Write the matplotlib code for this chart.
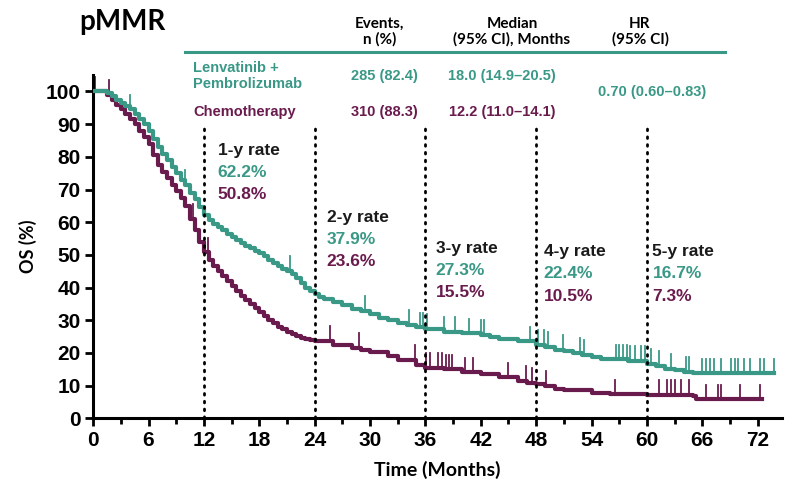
import numpy as np
import matplotlib
matplotlib.use("Agg")
from matplotlib import pyplot as plt

TEAL = "#3a9886"
PURPLE = "#6a1b4d"

# Kaplan-Meier step points (months, % alive)
lenva_t = [0, 0.5, 1, 1.5, 2, 2.5, 3, 3.5, 4, 4.5, 5, 5.5, 6, 6.5, 7, 7.5, 8, 8.5, 9, 9.5,
           10, 10.5, 11, 11.5, 12, 12.5, 13, 13.5, 14, 14.5, 15, 15.5, 16, 16.5, 17, 17.5,
           18, 18.5, 19, 19.5, 20, 20.5, 21, 21.5, 22, 22.5, 23, 23.5, 24, 24.5, 25, 26,
           27, 28, 29, 30, 31, 32, 33, 34, 35, 36, 38, 40, 42, 43, 44, 46, 48, 49, 50, 51,
           52, 53, 54, 55, 58, 60, 61, 62, 63, 64, 65, 73.8]
lenva_s = [100, 100, 100, 99.5, 98.5, 97.5, 96.5, 95.5, 94.5, 93, 91.5, 90, 88, 85.5, 83,
           81, 79, 77, 75, 73, 71.5, 69, 67, 64.5, 62.2, 60.8, 59.5, 58.5, 57.5, 56.5, 55.5,
           54.5, 53.5, 52.8, 52, 51.2, 50.5, 49.5, 48.5, 47.5, 46.5, 45.8, 45, 44, 43, 41.5,
           40, 39, 37.9, 37.2, 36.5, 35.5, 34.5, 33.5, 32.8, 31.8, 30.8, 30, 29.2, 28.5,
           27.8, 27.3, 26.5, 26, 25.5, 24.8, 24.2, 23.5, 22.4, 21.8, 21, 20.5, 20, 19.5,
           18.8, 18, 17.5, 16.7, 16, 15.2, 14.8, 14.2, 13.7, 13.7]

chemo_t = [0, 1, 1.5, 2, 2.5, 3, 3.5, 4, 4.5, 5, 5.5, 6, 6.5, 7, 7.5, 8, 8.5, 9, 9.5, 10,
           10.5, 11, 11.5, 12, 12.5, 13, 13.5, 14, 14.5, 15, 15.5, 16, 16.5, 17, 17.5, 18,
           18.5, 19, 19.5, 20, 20.5, 21, 21.5, 22, 22.5, 23, 23.5, 24, 26, 28, 29, 30, 32,
           33, 35, 36, 38, 40, 42, 44, 46, 47, 48, 49, 50, 51, 54, 56, 60, 65, 65.3, 72.5]
chemo_s = [100, 100, 99, 97.5, 96, 94.5, 93, 91.5, 90, 88, 86, 84, 80.5, 77.5, 75.5, 73.5,
           71.5, 69.5, 67.5, 65, 61, 57.5, 54, 50.8, 48.5, 46.5, 45, 43.5, 42, 40.5, 39,
           37.5, 36.2, 35, 33.8, 32.5, 31.2, 30, 29, 28, 27.2, 26.5, 25.8, 25.2, 24.7, 24.2,
           23.9, 23.6, 22.5, 21.5, 20.9, 20.3, 19, 17.8, 16.2, 15.5, 15, 14, 13.5, 12.5,
           11.5, 10.8, 10.5, 9.8, 9, 8.5, 7.6, 7.3, 7.1, 6.8, 5.8, 5.8]

# censored patients (months)
lenva_cens = [4, 10, 21.3, 29.5, 34.2, 35.4, 35.7, 36.2, 38, 39.2, 40.7, 42, 42.3, 47.3,
              48.2, 48.8, 49.3, 50.9, 52.8, 53.2, 56.6, 57, 57.4, 57.8, 58.2, 58.7, 59.4,
              59.8, 60.4, 61.3, 62.6, 64.2, 64.6, 66, 66.4, 66.8, 67.3, 68, 69.1, 69.5,
              69.9, 70.5, 71.2, 72.3, 72.7, 73.8]
chemo_cens = [0.2, 1.7, 10.8, 12.4, 25.7, 28.8, 34.9, 36.1, 36.5, 37.4, 37.8, 38.2, 38.6,
              38.9, 40.3, 41.2, 45, 46.9, 47.5, 49.1, 56.5, 61.3, 62.2, 62.6, 63, 63.7,
              64.6, 66.4, 67.7, 68, 70.1, 72.3]

years = [12, 24, 36, 48, 60]
rate_labels = ["1-y rate", "2-y rate", "3-y rate", "4-y rate", "5-y rate"]
lenva_rates = ["62.2%", "37.9%", "27.3%", "22.4%", "16.7%"]
chemo_rates = ["50.8%", "23.6%", "15.5%", "10.5%", "7.3%"]
rate_pos = [(13.5, 82), (25.3, 61.5), (37.1, 52), (48.8, 51), (60.6, 51)]


def surv_at(t, st, ss):
    i = np.searchsorted(st, t, side="right") - 1
    return ss[max(i, 0)]


fig = plt.figure(figsize=(7.96, 4.88), dpi=100)
ax = fig.add_axes([0.117, 0.143, 0.865, 0.703])

ax.plot(lenva_t, lenva_s, drawstyle="steps-post", color=TEAL, lw=3, zorder=3)
ax.plot(chemo_t, chemo_s, drawstyle="steps-post", color=PURPLE, lw=3, zorder=2)

for t in lenva_cens:
    y = surv_at(t, lenva_t, lenva_s)
    ax.plot([t, t], [y, y + 4.5], color=TEAL, lw=1.3, zorder=3)
for t in chemo_cens:
    y = surv_at(t, chemo_t, chemo_s)
    ax.plot([t, t], [y, y + 4.5], color=PURPLE, lw=1.3, zorder=2)

for yr in years:
    ax.plot([yr, yr], [0, 89], color="black", lw=2, ls=(0, (0.6, 2.2)),
            dash_capstyle="round", zorder=4)

for (x, y), lab, a, b in zip(rate_pos, rate_labels, lenva_rates, chemo_rates):
    ax.text(x, y, lab, fontsize=12.5, fontweight="bold", color="#1a1a1a",
            family="Liberation Sans", va="center")
    ax.text(x, y - 6.8, a, fontsize=12.5, fontweight="bold", color=TEAL,
            family="Liberation Sans", va="center")
    ax.text(x, y - 13.6, b, fontsize=12.5, fontweight="bold", color=PURPLE,
            family="Liberation Sans", va="center")

ax.set_xlim(0, 74.6)
ax.set_ylim(0, 105)
ax.set_xticks(np.arange(0, 73, 6))
ax.set_xticks(np.arange(3, 73, 6), minor=True)
ax.set_yticks(np.arange(0, 101, 10))
for s in ["top", "right"]:
    ax.spines[s].set_visible(False)
for s in ["left", "bottom"]:
    ax.spines[s].set_linewidth(2.2)
ax.spines["left"].set_bounds(0, 105)
ax.tick_params(axis="both", which="major", length=6, width=2, pad=3)
ax.tick_params(axis="x", which="minor", length=4, width=2)
for lab in ax.get_xticklabels() + ax.get_yticklabels():
    lab.set_family("Liberation Sans")
    lab.set_fontweight("bold")
    lab.set_fontsize(15)

ax.set_xlabel("Time (Months)", fontsize=14, fontweight="bold", family="Lato", labelpad=8)
ax.set_ylabel("OS (%)", fontsize=13, fontweight="bold", family="Lato", labelpad=6)

# header table above the plot
fig.text(0.100, 0.955, "pMMR", fontsize=20, fontweight="bold", family="Lato", va="center")
hdr = dict(fontsize=11, fontweight="bold", family="Lato", ha="center", va="center",
           linespacing=1.1)
fig.text(380 / 796, 1 - 32 / 488, "Events,\nn (%)", **hdr)
fig.text(512 / 796, 1 - 32 / 488, "Median\n(95% CI), Months", **hdr)
fig.text(640 / 796, 1 - 32 / 488, "HR\n(95% CI)", **hdr)
fig.add_artist(plt.Line2D([185 / 796, 725 / 796], [1 - 52 / 488, 1 - 52 / 488],
                          color=TEAL, lw=2.2, transform=fig.transFigure))

row = dict(fontsize=10.5, fontweight="bold", family="Liberation Sans", va="center")
fig.text(193 / 796, 1 - 76 / 488, "Lenvatinib +\nPembrolizumab", color=TEAL,
         linespacing=1.15, **row)
fig.text(193 / 796, 1 - 112 / 488, "Chemotherapy", color=PURPLE, **row)
fig.text(384 / 796, 1 - 76 / 488, "285 (82.4)", color=TEAL, ha="center", **row)
fig.text(384 / 796, 1 - 112 / 488, "310 (88.3)", color=PURPLE, ha="center", **row)
fig.text(502 / 796, 1 - 76 / 488, "18.0 (14.9\u201320.5)", color=TEAL, ha="center", **row)
fig.text(502 / 796, 1 - 112 / 488, "12.2 (11.0\u201314.1)", color=PURPLE, ha="center", **row)
fig.text(652 / 796, 1 - 92 / 488, "0.70 (0.60\u20130.83)", color=TEAL, ha="center", **row)

fig.savefig("out.png", dpi=100)
